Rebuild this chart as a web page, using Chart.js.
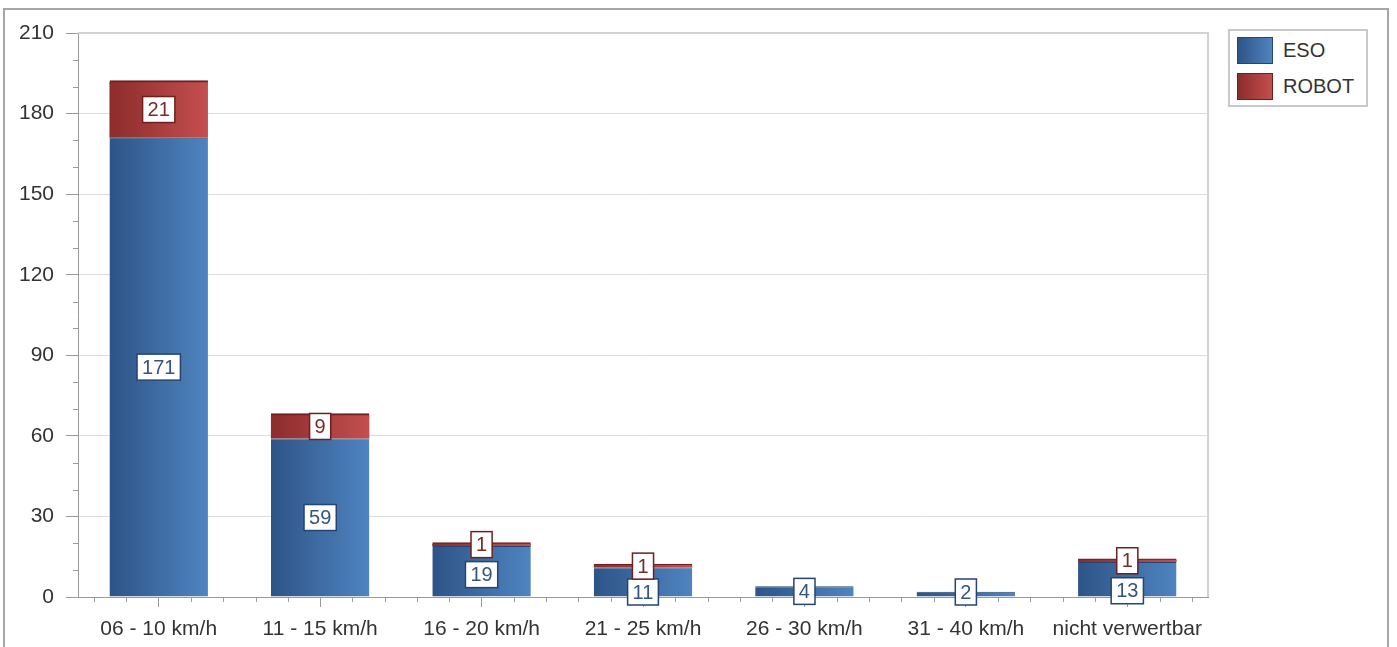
<!DOCTYPE html>
<html>
<head>
<meta charset="utf-8">
<script src="https://cdn.jsdelivr.net/npm/chart.js@4.4.1/dist/chart.umd.min.js"></script>
<style>
    html, body { margin: 0; padding: 0; background: #fff; overflow: hidden; }
    #frame {
        position: absolute; left: 3px; top: 8px; width: 1386px; height: 700px;
        border: 2px solid #a6a6a6; box-sizing: border-box;
    }
    #wrap { position: absolute; left: 0; top: 0; width: 1397px; height: 647px; }
    #legend {
        position: absolute; left: 1228px; top: 29px; width: 140px; height: 78px;
        border: 2px solid #c9c9c9; box-sizing: border-box; background: #fff;
        font-family: "Liberation Sans", Arial, sans-serif; font-size: 20px; color: #333;
    }
    .item { position: absolute; left: 7px; height: 27px; line-height: 27px; }
    .swatch { position: absolute; left: 0; top: 0; width: 36px; height: 27px; box-sizing: border-box; }
    .item span { position: absolute; left: 46px; top: 0; white-space: nowrap; }
</style>
</head>
<body>
<div id="frame"></div>
<div id="wrap"><canvas id="speedChart"></canvas></div>
<div id="legend">
    <div class="item" style="top:6px"><div class="swatch" id="sw0"></div><span id="lg0"></span></div>
    <div class="item" style="top:42px"><div class="swatch" id="sw1"></div><span id="lg1"></span></div>
</div>
<script>
const categories = ["06 - 10 km/h", "11 - 15 km/h", "16 - 20 km/h", "21 - 25 km/h", "26 - 30 km/h", "31 - 40 km/h", "nicht verwertbar"];
const esoValues = [171, 59, 19, 11, 4, 2, 13];
const robotValues = [21, 9, 1, 1, 0, 0, 1];
const seriesNames = ["ESO", "ROBOT"];
const yTicks = [0, 30, 60, 90, 120, 150, 180, 210];

const BAR_PCT = 0.61;
const BLUE = { dark: "#2d5487", light: "#4f84c0", edge: "#244570", text: "#34557f" };
const RED = { dark: "#8c2c2c", light: "#c44f4f", edge: "#6e2020", text: "#7a2a2a" };
const FONT = '"Liberation Sans", Arial, sans-serif';

// horizontal gradient across each bar
const barFill = (col) => (ctx) => {
    const chart = ctx.chart;
    const x = chart.scales.x;
    if (!x || ctx.dataIndex === undefined || !isFinite(x.width)) return col.light;
    const c = x.getPixelForValue(ctx.dataIndex);
    const w = (x.width / categories.length) * BAR_PCT;
    const g = chart.ctx.createLinearGradient(c - w / 2, 0, c + w / 2, 0);
    g.addColorStop(0, col.dark);
    g.addColorStop(1, col.light);
    return g;
};

// legend (html)
[BLUE, RED].forEach((col, i) => {
    const sw = document.getElementById("sw" + i);
    sw.style.background = `linear-gradient(to right, ${col.dark}, ${col.light})`;
    sw.style.border = `1px solid ${col.edge}`;
    document.getElementById("lg" + i).textContent = seriesNames[i];
});

/* ---------------- minor ticks + plot frame ---------------- */
const axisExtras = {
    id: "axisExtras",
    afterDraw(chart) {
        const { ctx, chartArea, scales } = chart;
        ctx.save();
        // plot frame (top + right)
        ctx.strokeStyle = "#d2d2d2";
        ctx.lineWidth = 2;
        ctx.beginPath();
        ctx.moveTo(chartArea.left, chartArea.top);
        ctx.lineTo(chartArea.right, chartArea.top);
        ctx.lineTo(chartArea.right, chartArea.bottom);
        ctx.stroke();

        ctx.strokeStyle = "#9a9a9a";
        ctx.lineWidth = 1;
        ctx.beginPath();
        for (let v = 0; v <= yTicks[yTicks.length - 1]; v += 10) {
            if (v % 30 === 0) continue;
            const py = Math.round(scales.y.getPixelForValue(v)) + 0.5;
            ctx.moveTo(chartArea.left - 5, py);
            ctx.lineTo(chartArea.left, py);
        }
        const catW = scales.x.width / categories.length;
        categories.forEach((c, i) => {
            const cx = scales.x.getPixelForValue(i);
            [-0.4, -0.2, 0.2, 0.4].forEach(k => {
                const px = Math.round(cx + k * catW) + 0.5;
                ctx.moveTo(px, chartArea.bottom);
                ctx.lineTo(px, chartArea.bottom + 5);
            });
        });
        ctx.stroke();
        ctx.restore();
    }
};

/* ---------------- value boxes ---------------- */
const valueBoxes = {
    id: "valueBoxes",
    afterDatasetsDraw(chart) {
        const { ctx, scales } = chart;
        const zero = scales.y.getPixelForValue(0);
        const h = 26;
        const eso = chart.getDatasetMeta(0).data;
        const rob = chart.getDatasetMeta(1).data;
        ctx.save();
        ctx.font = `20px ${FONT}`;
        ctx.textAlign = "center";
        ctx.textBaseline = "middle";

        const drawBox = (text, cx, cy, col) => {
            const w = ctx.measureText(text).width + 10;
            ctx.fillStyle = "#fff";
            ctx.fillRect(cx - w / 2, cy - h / 2, w, h);
            ctx.strokeStyle = col.edge;
            ctx.lineWidth = 1.5;
            ctx.strokeRect(cx - w / 2, cy - h / 2, w, h);
            ctx.fillStyle = col.text;
            ctx.fillText(text, cx, cy + 1);
        };

        categories.forEach((c, i) => {
            let robotCy = null;
            if (robotValues[i] > 0) {
                const el = rob[i];
                robotCy = (el.y + el.base) / 2;
            }
            if (esoValues[i] > 0) {
                const el = eso[i];
                let cy = (el.y + el.base) / 2;
                if (robotCy !== null && cy - h / 2 < robotCy + h / 2 + 4) {
                    cy = robotCy + h + 4;
                }
                cy = Math.min(cy, zero - 5);
                drawBox(String(esoValues[i]), el.x, cy, BLUE);
            }
            if (robotCy !== null) {
                drawBox(String(robotValues[i]), rob[i].x, robotCy, RED);
            }
        });
        ctx.restore();
    }
};

new Chart(document.getElementById("speedChart"), {
    type: "bar",
    data: {
        labels: categories,
        datasets: [
            {
                label: seriesNames[0],
                data: esoValues,
                backgroundColor: barFill(BLUE),
                borderColor: BLUE.edge,
                borderWidth: { top: 1, left: 0, right: 0, bottom: 0 },
                borderSkipped: "bottom",
                categoryPercentage: 1,
                barPercentage: BAR_PCT
            },
            {
                label: seriesNames[1],
                data: robotValues,
                backgroundColor: barFill(RED),
                borderColor: RED.edge,
                borderWidth: (ctx) => ({ top: ctx.raw > 0 ? 2 : 0, left: 0, right: 0, bottom: 0 }),
                borderSkipped: "bottom",
                inflateAmount: (ctx) => (ctx.raw > 0 ? 1 : 0),
                categoryPercentage: 1,
                barPercentage: BAR_PCT
            }
        ]
    },
    options: {
        responsive: true,
        maintainAspectRatio: false,
        animation: false,
        layout: { padding: { top: 33, right: 189, left: 0, bottom: 0 } },
        plugins: {
            legend: { display: false },
            tooltip: { enabled: false }
        },
        scales: {
            x: {
                stacked: true,
                afterFit: (s) => { s.height = 50; },
                border: { color: "#9a9a9a" },
                grid: {
                    drawOnChartArea: false,
                    offset: false,
                    tickLength: 10,
                    tickColor: "#9a9a9a"
                },
                ticks: {
                    color: "#333",
                    font: { family: FONT, size: 21 },
                    padding: 10,
                    maxRotation: 0,
                    autoSkip: false
                }
            },
            y: {
                stacked: true,
                min: yTicks[0],
                max: yTicks[yTicks.length - 1],
                afterFit: (s) => { s.width = 78; },
                afterBuildTicks: (s) => { s.ticks = yTicks.map(v => ({ value: v })); },
                border: { color: "#9a9a9a" },
                grid: {
                    color: "#dcdcdc",
                    tickLength: 12,
                    tickColor: "#9a9a9a"
                },
                ticks: {
                    color: "#333",
                    font: { family: FONT, size: 21 },
                    padding: 12
                }
            }
        }
    },
    plugins: [axisExtras, valueBoxes]
});
</script>
</body>
</html>
